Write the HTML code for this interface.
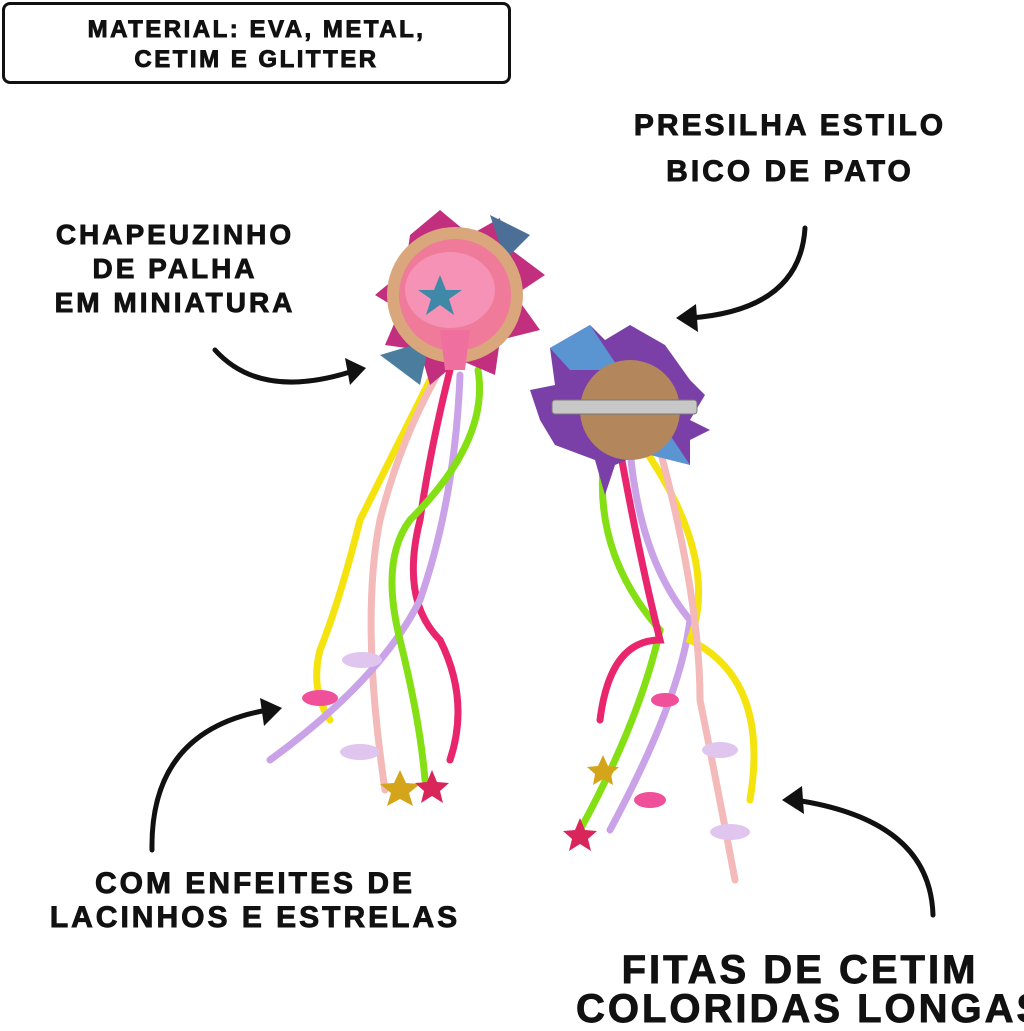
<!DOCTYPE html>
<html><head><meta charset="utf-8"><style>
html,body{margin:0;padding:0;background:#fff;}
body{width:1024px;height:1024px;position:relative;overflow:hidden;font-family:"Liberation Sans",sans-serif;}
.t{position:absolute;font-weight:900;color:#111;text-align:center;letter-spacing:3px;line-height:1;white-space:nowrap;-webkit-text-stroke:0.9px #111;}
.box{position:absolute;left:2px;top:2px;width:503px;height:76px;border:3px solid #111;border-radius:8px;}
</style></head><body>
<div class="box"></div>
<div class="t" style="left:2px;width:509px;top:18px;font-size:24px;letter-spacing:2.5px;">MATERIAL: EVA, METAL,</div>
<div class="t" style="left:2px;width:509px;top:48px;font-size:24px;letter-spacing:2.5px;">CETIM E GLITTER</div>
<div class="t" style="left:590px;width:400px;top:111px;font-size:30px;">PRESILHA ESTILO</div>
<div class="t" style="left:590px;width:400px;top:157px;font-size:30px;">BICO DE PATO</div>
<div class="t" style="left:10px;width:330px;top:221px;font-size:28px;">CHAPEUZINHO</div>
<div class="t" style="left:10px;width:330px;top:255px;font-size:28px;">DE PALHA</div>
<div class="t" style="left:10px;width:330px;top:289px;font-size:28px;">EM MINIATURA</div>
<div class="t" style="left:10px;width:490px;top:869px;font-size:30px;">COM ENFEITES DE</div>
<div class="t" style="left:10px;width:490px;top:903px;font-size:30px;">LACINHOS E ESTRELAS</div>
<div class="t" style="left:560px;width:480px;top:950px;font-size:40px;">FITAS DE CETIM</div>
<div class="t" style="left:560px;width:530px;top:989px;font-size:40px;text-align:left;padding-left:16px;">COLORIDAS LONGAS</div>
<svg width="1024" height="1024" style="position:absolute;left:0;top:0" viewBox="0 0 1024 1024">
<g fill="none" stroke="#111" stroke-width="5" stroke-linecap="round">
<path d="M215 350 Q260 400 350 372"/>
<path d="M805 228 Q800 310 690 318"/>
<path d="M152 850 Q150 730 268 710"/>
<path d="M933 915 Q930 820 795 800"/>
</g>
<g fill="#111">
<polygon points="366,368 345,358 350,385"/>
<polygon points="676,318 696,304 698,332"/>
<polygon points="282,708 260,698 264,726"/>
<polygon points="782,800 802,786 804,814"/>
</g>
<g fill="none" stroke-width="7" stroke-linecap="round">
<path d="M430 380 Q380 480 360 520 Q340 600 320 650 Q310 690 330 720" stroke="#f5e30f"/>
<path d="M440 370 Q400 440 380 520 Q360 620 385 790" stroke="#f4b9b9"/>
<path d="M450 370 Q430 450 420 520 Q400 600 440 640 Q470 700 450 760" stroke="#e8256d"/>
<path d="M460 375 Q455 500 420 600 Q380 680 270 760" stroke="#c9a2e8"/>
<path d="M478 370 Q490 440 410 520 Q380 560 400 640 Q420 720 425 780" stroke="#84e014"/>
</g>
<g>
<polygon points="440,210 470,235 500,218 505,245 545,275 515,295 540,330 500,340 495,375 460,360 430,385 420,350 385,345 400,310 375,295 405,270 410,235" fill="#c22f7e"/>
<polygon points="490,215 530,235 505,260" fill="#4b6f96"/>
<polygon points="380,355 430,340 420,385" fill="#4b7e9e"/>
<circle cx="455" cy="295" r="68" fill="#d9a77b"/>
<circle cx="455" cy="295" r="56" fill="#f07a9a"/>
<ellipse cx="450" cy="290" rx="45" ry="38" fill="#f592b5"/>
<path d="M440 330 L470 330 L465 370 L445 370Z" fill="#ef6f9e"/>
<polygon points="440,275 446,290 462,290 449,299 454,315 440,305 426,315 431,299 418,290 434,290" fill="#3f88a8"/>
</g>
<g fill="none" stroke-width="7" stroke-linecap="round">
<path d="M605 450 Q590 550 660 630 Q640 720 580 830" stroke="#84e014"/>
<path d="M620 450 Q640 560 660 640 Q610 640 600 720" stroke="#e8256d"/>
<path d="M630 450 Q640 560 690 620 Q680 700 610 830" stroke="#c9a2e8"/>
<path d="M645 450 Q720 560 690 640 Q770 680 750 800" stroke="#f5e30f"/>
<path d="M660 450 Q700 600 700 700 Q720 800 735 880" stroke="#f4b9b9"/>
</g>
<g>
<polygon points="550,348 590,325 605,340 630,325 665,345 690,380 705,395 690,420 710,430 690,440 690,465 650,450 615,465 605,495 595,460 555,445 540,420 530,390 555,385" fill="#7b3fa8"/>
<polygon points="550,348 590,325 620,370 570,370" fill="#5a95d2"/>
<polygon points="660,420 690,465 650,455" fill="#5a95d2"/>
<circle cx="630" cy="410" r="50" fill="#b3865c"/>
<rect x="552" y="400" width="145" height="14" rx="3" fill="#c8c8c8" stroke="#777"/>
</g>
<g fill="#d4a51a"><polygon points="400,770 406,783 420,784 409,793 413,806 400,799 387,806 391,793 380,784 394,783"/></g>
<g fill="#d8265a"><polygon points="432,770 437,782 449,783 440,791 443,803 432,796 421,803 424,791 415,783 427,782"/><polygon points="580,818 585,830 597,831 588,839 591,851 580,844 569,851 572,839 563,831 575,830"/></g>
<g fill="#d4a51a"><polygon points="603,755 608,766 619,767 611,774 613,785 603,779 593,785 595,774 587,767 598,766"/></g>
<g fill="#e0c5ef"><ellipse cx="362" cy="660" rx="20" ry="8"/><ellipse cx="360" cy="752" rx="20" ry="8"/><ellipse cx="720" cy="750" rx="18" ry="8"/><ellipse cx="730" cy="832" rx="20" ry="8"/></g>
<g fill="#f0509a"><ellipse cx="320" cy="698" rx="18" ry="8"/><ellipse cx="650" cy="800" rx="16" ry="8"/><ellipse cx="665" cy="700" rx="14" ry="7"/></g>
</svg>
</body></html>
